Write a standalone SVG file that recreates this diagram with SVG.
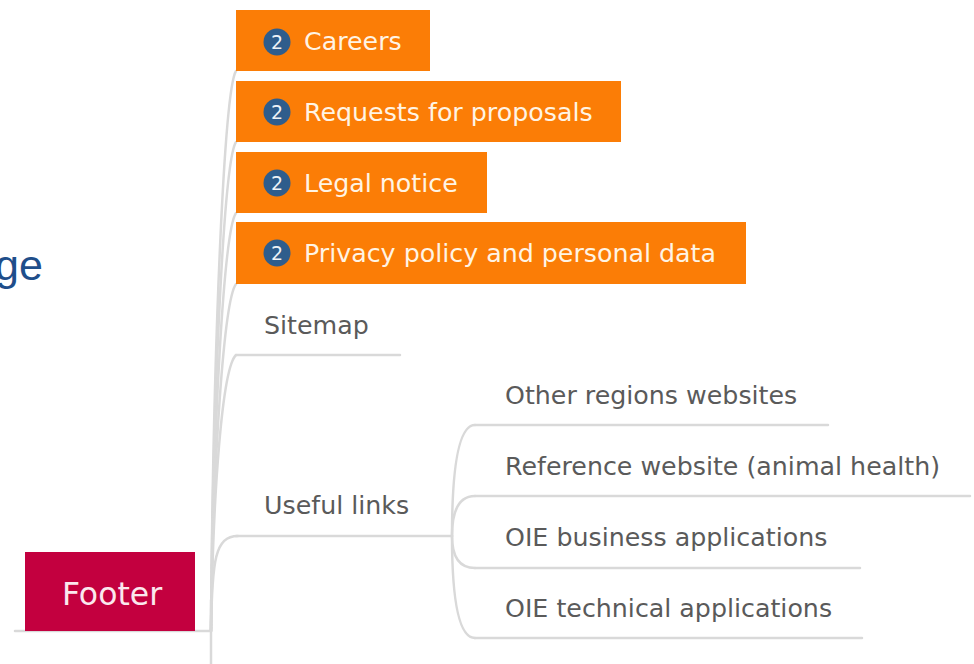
<svg xmlns="http://www.w3.org/2000/svg" width="974" height="664" viewBox="0 0 974 664">
  <style>
    .conn { fill: none; stroke: #d9d9d9; stroke-width: 2.5; stroke-linecap: round; }
    .obox { fill: #fb7d06; }
    .otxt { font-family: "DejaVu Sans", Verdana, sans-serif; font-size: 25.3px; fill: #fff4e4; }
    .badge { fill: #2f5d8c; }
    .btxt { font-family: "DejaVu Sans", Verdana, sans-serif; font-size: 19px; fill: #eef2f7; text-anchor: middle; }
    .gtxt { font-family: "DejaVu Sans", Verdana, sans-serif; font-size: 25.3px; fill: #5a5a5a; }
  </style>
  <rect width="974" height="664" fill="#ffffff"/>

  <text x="-5" y="280" font-family="Liberation Sans, Arial, sans-serif" font-size="43" fill="#1f4e8a">ge</text>

  <g id="connectors">
    <line class="conn" x1="15" y1="631" x2="211" y2="631"/>
    <line class="conn" x1="211" y1="600" x2="211" y2="664"/>
    <path class="conn" d="M211 631 C213 350 224 90 236 71"/>
    <path class="conn" d="M211 631 C213 386 224 160 236 142"/>
    <path class="conn" d="M211 631 C213 422 224 230 236 213"/>
    <path class="conn" d="M211 631 C213 457 224 300 236 284"/>
    <path class="conn" d="M211 631 C213 493 222 368 236 355"/>
    <path class="conn" d="M211 631 C212 560 215 536 238 536"/>
    <line class="conn" x1="236" y1="355" x2="400" y2="355"/>
    <line class="conn" x1="236" y1="536" x2="452" y2="536"/>
    <path class="conn" d="M452 536 Q452 425 475 425"/>
    <path class="conn" d="M452 536 Q452 496 475 496"/>
    <path class="conn" d="M452 536 Q452 568 475 568"/>
    <path class="conn" d="M452 536 Q452 638 475 638"/>
    <line class="conn" x1="475" y1="425" x2="828" y2="425"/>
    <line class="conn" x1="475" y1="496" x2="970" y2="496"/>
    <line class="conn" x1="475" y1="568" x2="860" y2="568"/>
    <line class="conn" x1="475" y1="638" x2="862" y2="638"/>
  </g>

  <g id="footer">
    <rect x="25" y="552" width="170" height="79" fill="#c3003f"/>
    <text x="112" y="605" font-family="DejaVu Sans, Verdana, sans-serif" font-size="31.5" fill="#fbe8ee" text-anchor="middle">Footer</text>
  </g>

  <g id="careers">
    <rect class="obox" x="236" y="10" width="194" height="61"/>
    <circle class="badge" cx="277" cy="42" r="13.5"/>
    <text class="btxt" x="277" y="49">2</text>
    <text class="otxt" x="304" y="50">Careers</text>
  </g>
  <g id="requests">
    <rect class="obox" x="236" y="81" width="385" height="61"/>
    <circle class="badge" cx="277" cy="112" r="13.5"/>
    <text class="btxt" x="277" y="119">2</text>
    <text class="otxt" x="304" y="121">Requests for proposals</text>
  </g>
  <g id="legal">
    <rect class="obox" x="236" y="152" width="251" height="61"/>
    <circle class="badge" cx="277" cy="183" r="13.5"/>
    <text class="btxt" x="277" y="190">2</text>
    <text class="otxt" x="304" y="192">Legal notice</text>
  </g>
  <g id="privacy">
    <rect class="obox" x="236" y="222" width="510" height="62"/>
    <circle class="badge" cx="277" cy="253" r="13.5"/>
    <text class="btxt" x="277" y="260">2</text>
    <text class="otxt" x="304" y="262">Privacy policy and personal data</text>
  </g>
  <g id="sitemap">
    <text class="gtxt" x="264" y="334">Sitemap</text>
  </g>
  <g id="useful-links">
    <text class="gtxt" x="264" y="514">Useful links</text>
  </g>
  <g id="other-regions">
    <text class="gtxt" x="505" y="404">Other regions websites</text>
  </g>
  <g id="reference-website">
    <text class="gtxt" x="505" y="475">Reference website (animal health)</text>
  </g>
  <g id="oie-business">
    <text class="gtxt" x="505" y="546">OIE business applications</text>
  </g>
  <g id="oie-technical">
    <text class="gtxt" x="505" y="617">OIE technical applications</text>
  </g>
</svg>
